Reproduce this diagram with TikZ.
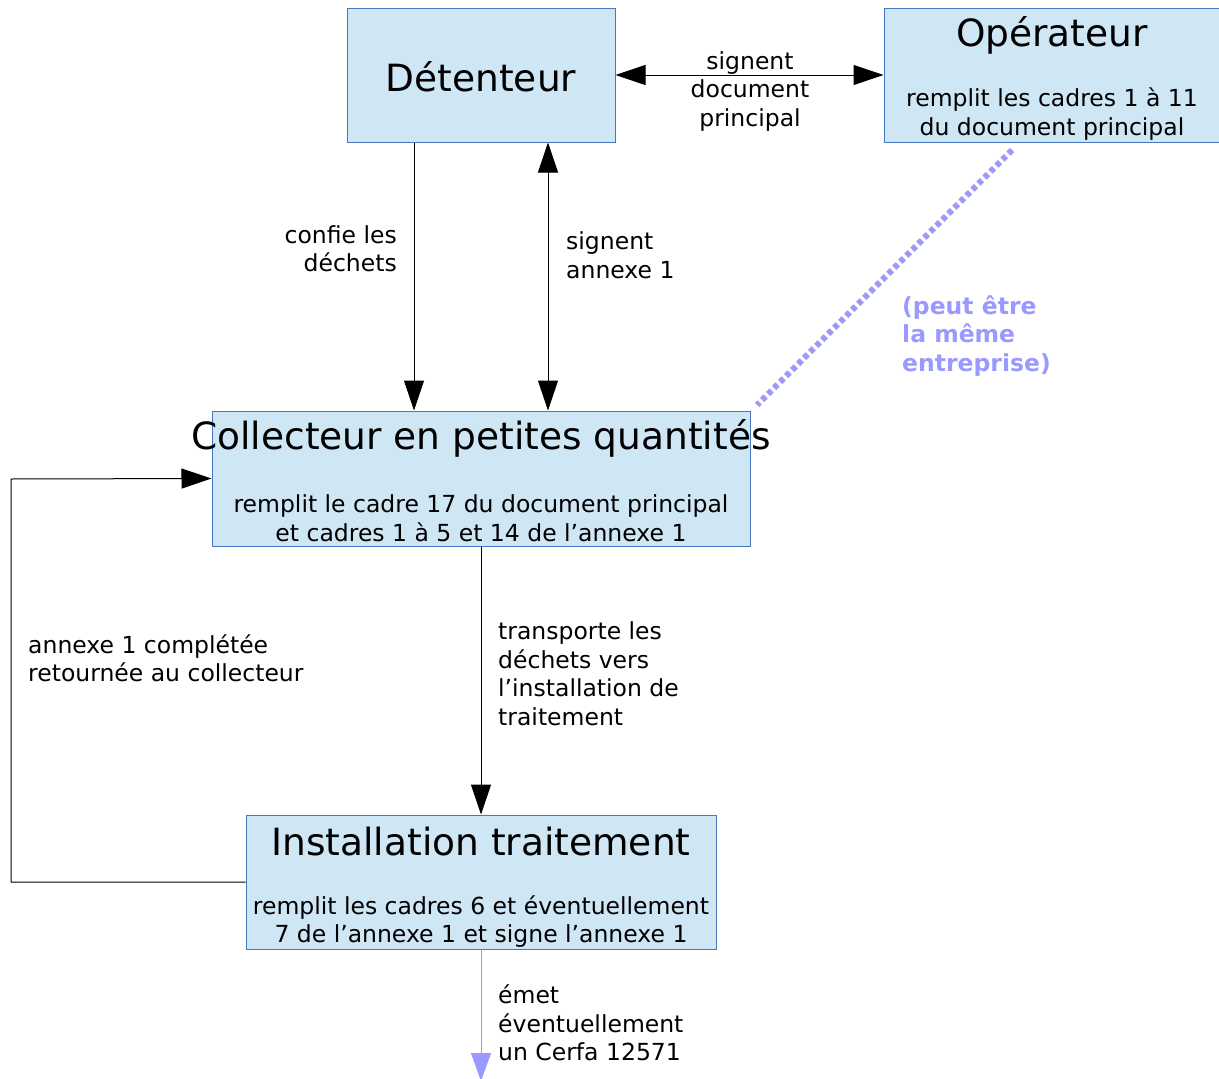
\documentclass[tikz,border=0pt]{standalone}
\usepackage{fontspec}
\setmainfont{DejaVu Sans}
\usetikzlibrary{arrows.meta}
\definecolor{boxfill}{RGB}{207,230,244}
\definecolor{boxline}{RGB}{70,120,190}
\definecolor{lblue}{RGB}{153,153,255}
\tikzset{
  box/.style={draw=boxline, fill=boxfill, line width=1pt, rectangle, inner sep=0pt},
  ttl/.style={font=\fontsize{37.5}{45}\selectfont, inner sep=0pt},
  sub/.style={font=\fontsize{23.5}{28.5}\selectfont, align=center, inner sep=0pt},
  lbl/.style={font=\fontsize{23.5}{28.5}\selectfont, inner sep=0pt},
  arr/.style={line width=1pt, -{Triangle[length=30pt,width=20pt]}},
  darr/.style={line width=1pt, {Triangle[length=30pt,width=20pt]}-{Triangle[length=30pt,width=20pt]}},
}
\begin{document}
\begin{tikzpicture}[x=1pt,y=-1pt]
\useasboundingbox (0,0) rectangle (1219,1079);
% boxes
\node[box, minimum width=268pt, minimum height=134pt] (det) at (481,75) {};
\node[box, minimum width=336pt, minimum height=134pt] (op) at (1052,75) {};
\node[box, minimum width=538pt, minimum height=135pt] (col) at (481,478.5) {};
\node[box, minimum width=470pt, minimum height=134pt] (inst) at (481,882) {};
% titles
\node[ttl] (detT) at (481,77) {Détenteur};
\node[ttl] (opT) at (1052,35) {Opérateur};
\node[ttl] (colT) at (481,438) {Collecteur en petites quantités};
\node[ttl] (instT) at (481,842) {Installation traitement};
% sub texts
\node[sub] (opS) at (1052,114) {remplit les cadres 1 à 11\\du document principal};
\node[sub] (colS) at (481,518) {remplit le cadre 17 du document principal\\et cadres 1 à 5 et 14 de l’annexe 1};
\node[sub] (instS) at (481,921.5) {remplit les cadres 6 et éventuellement\\7 de l’annexe 1 et signe l’annexe 1};
% connectors
\draw[darr] (det.east) -- (op.west);
\draw[arr] ([xshift=-67pt]det.south) -- ([xshift=-67pt]col.north);
\draw[darr] ([xshift=67pt]det.south) -- ([xshift=67pt]col.north);
\draw[arr] (col.south) -- (inst.north);
\coordinate (fb) at (11,479);
\draw[arr] (inst.west) -| (fb) -- (col.west);
\coordinate (cerfa) at (481,1081);
\draw[line width=1pt, draw=lblue, -{Triangle[length=28pt,width=20pt,fill=lblue]}] (inst.south) -- (cerfa);
\coordinate (dotA) at (1012,150);
\coordinate (dotB) at (757,405);
\draw[draw=lblue, line width=6pt, dash pattern=on 5pt off 3.5pt] (dotA) -- (dotB);
% labels
\node[lbl, align=center] (l1) at (750,91.5) {signent\\document\\principal};
\node[lbl, align=right, anchor=east] (l2) at (397,248.5) {confie les\\déchets};
\node[lbl, align=left, anchor=west] (l3) at (566,255) {signent\\annexe 1};
\node[lbl, align=left, anchor=west, text=lblue, font=\fontsize{23.5}{28.5}\selectfont\bfseries] (l4) at (902,336) {(peut être\\la même\\entreprise)};
\node[lbl, align=left, anchor=west] (l5) at (498,673.5) {transporte les\\déchets vers\\l’installation de\\traitement};
\node[lbl, align=left, anchor=west] (l6) at (28,658.5) {annexe 1 complétée\\retournée au collecteur};
\node[lbl, align=left, anchor=west] (l7) at (498,1023) {émet\\éventuellement\\un Cerfa 12571};
\end{tikzpicture}
\end{document}
